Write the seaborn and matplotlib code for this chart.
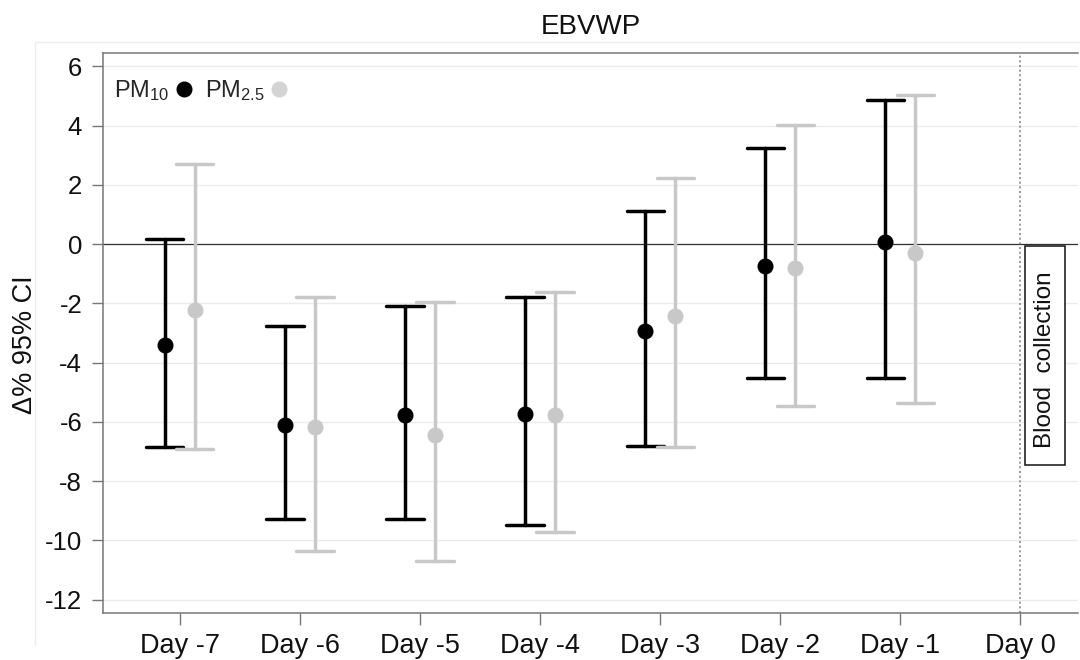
import numpy as np
import pandas as pd
import seaborn as sns
import matplotlib
matplotlib.use("Agg")
import matplotlib.pyplot as plt
from matplotlib.lines import Line2D
from matplotlib.patches import Rectangle

days = ["Day -7", "Day -6", "Day -5", "Day -4", "Day -3", "Day -2", "Day -1", "Day 0"]
data_days = days[:-1]

pm10_est = [-3.42, -6.10, -5.77, -5.73, -2.94, -0.73, 0.08]
pm10_low = [-6.86, -9.27, -9.29, -9.49, -6.81, -4.53, -4.53]
pm10_high = [0.17, -2.76, -2.09, -1.77, 1.12, 3.24, 4.87]

pm25_est = [-2.24, -6.17, -6.43, -5.77, -2.43, -0.81, -0.29]
pm25_low = [-6.91, -10.36, -10.69, -9.72, -6.86, -5.45, -5.37]
pm25_high = [2.69, -1.77, -1.96, -1.62, 2.24, 4.02, 5.04]

pollutants = ["PM10", "PM2.5"]
colors = {"PM10": "#000000", "PM2.5": "#c8c8c8"}

rows = []
for pol, est, lo, hi in [("PM10", pm10_est, pm10_low, pm10_high),
                         ("PM2.5", pm25_est, pm25_low, pm25_high)]:
    for d, e, l, h in zip(data_days, est, lo, hi):
        for v in (l, e, h):
            rows.append({"day": d, "pollutant": pol, "value": v})
df = pd.DataFrame(rows)

sns.set_theme(style="white")
plt.rcParams["font.family"] = ["Liberation Sans", "DejaVu Sans"]
plt.rcParams["mathtext.default"] = "regular"
plt.rcParams["axes.unicode_minus"] = False

fig = plt.figure(figsize=(10.8, 6.6), dpi=100)
ax = fig.add_axes([103/1080, (660-613)/660, (1078-103)/1080, (613-53)/660])

sns.pointplot(data=df, x="day", y="value", hue="pollutant", order=data_days,
              hue_order=pollutants, palette=colors, estimator=np.median,
              errorbar=("pi", 100), dodge=0.25, linestyle="none", markers="o",
              capsize=0.31, err_kws={"linewidth": 2.5}, markersize=9.5,
              legend=False, ax=ax, zorder=3)

ax.set_xlim(-0.64, 7.48)
ax.set_ylim(-12.45, 6.45)
ax.set_xticks(range(len(days)))
ax.set_xticklabels(days)
ax.set_yticks(np.arange(-12, 7, 2))
ax.tick_params(axis="x", labelsize=19.5, colors="#111111", length=8.5, width=1,
               direction="out", bottom=True, pad=6)
ax.tick_params(axis="y", labelsize=18.5, colors="#111111", length=8, width=1,
               direction="out", left=True, pad=7)
ax.tick_params(axis="both", color="#777777")
ax.set_xlabel("")
ax.set_ylabel("\u0394% 95% CI", fontsize=19.5, color="#111111")
ax.yaxis.set_label_coords(-0.067, 0.479)
ax.set_title("EBVWP", fontsize=20, color="#111111", pad=14)

ax.grid(axis="y", color="#ebebeb", linewidth=1)
ax.set_axisbelow(True)
ax.axhline(0, color="#333333", linewidth=0.9, zorder=1)
ax.axvline(7, color="#888888", linewidth=1.2, linestyle=(0, (1.2, 1.6)), zorder=1)

for side in ["left", "bottom", "top"]:
    ax.spines[side].set_visible(True)
    ax.spines[side].set_color("#777777")
    ax.spines[side].set_linewidth(1.1)
ax.spines["right"].set_visible(False)

ax.add_patch(Rectangle((7.04, -7.45), 0.335, 7.40, facecolor="white",
                       edgecolor="#111111", linewidth=1.1, zorder=4))
ax.text(7.205, -3.89, "Blood  collection", rotation=90, ha="center", va="center",
        fontsize=17.5, color="#111111", zorder=5)

handles = [Line2D([], [], marker="o", linestyle="none", color="#000000", markersize=10.5),
           Line2D([], [], marker="o", linestyle="none", color="#d4d4d4", markersize=10.5)]
ax.legend(handles=handles, labels=[r"PM$_{10}$", r"PM$_{2.5}$"], ncol=2, markerfirst=False,
          frameon=False, loc="upper left", bbox_to_anchor=(-0.006, 0.985), fontsize=17,
          handletextpad=0.12, columnspacing=0.4, handlelength=1.0, borderaxespad=0.3)

fig.add_artist(Line2D([35/1080, 35/1080], [1-645/660, 1-42/660], color="#ececec", linewidth=1))
fig.add_artist(Line2D([35/1080, 1.0], [1-42/660, 1-42/660], color="#ececec", linewidth=1))

fig.savefig("out.png", dpi=100)
